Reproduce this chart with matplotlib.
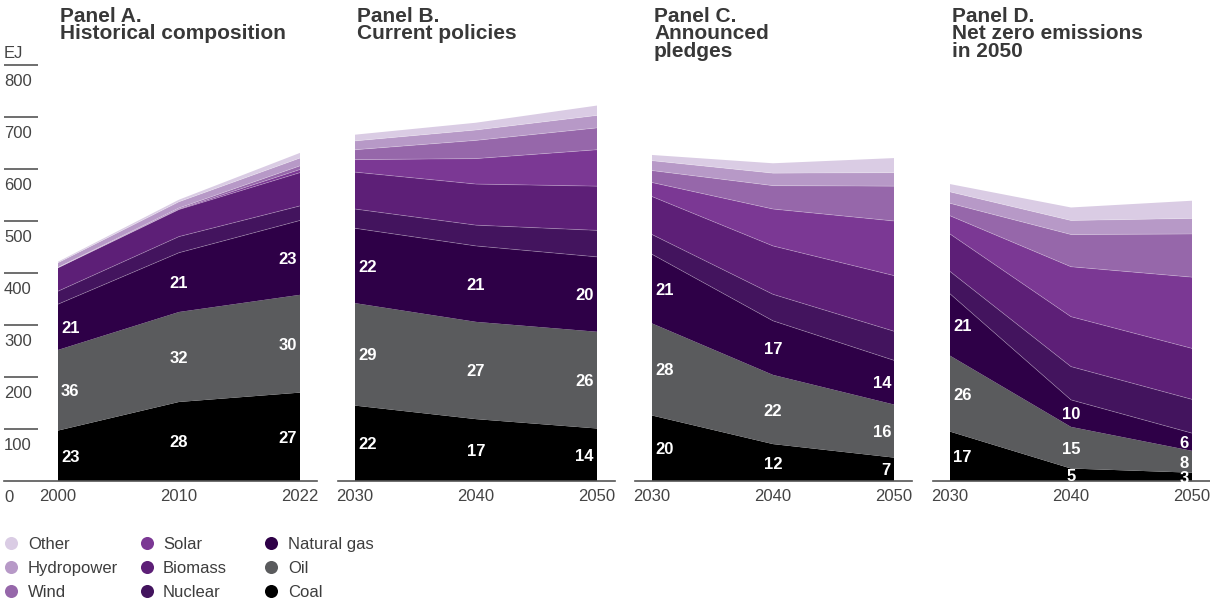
import matplotlib.pyplot as plt
import numpy as np

plt.rcParams['font.family'] = ['Liberation Sans', 'DejaVu Sans']

# stacking order, bottom to top
sources = ['Coal', 'Oil', 'Natural gas', 'Nuclear', 'Biomass', 'Solar', 'Wind', 'Hydropower', 'Other']
colors = ['#000000', '#5a5b5d', '#2e0047', '#43145e', '#5d1f77', '#7b3894', '#9667aa', '#b799c7', '#dacce4']

titles = ['Panel A.\nHistorical composition', 'Panel B.\nCurrent policies',
          'Panel C.\nAnnounced\npledges', 'Panel D.\nNet zero emissions\nin 2050']
years_hist = ['2000', '2010', '2022']
years_proj = ['2030', '2040', '2050']
y_ticks = [0, 100, 200, 300, 400, 500, 600, 700, 800]

# EJ per source (rows follow `sources`), columns are the three years
panel_a = [[97, 152, 170], [155, 173, 188], [88, 114, 143], [25, 31, 28], [45, 52, 64],
           [0.2, 1, 6], [0.5, 2, 7], [9, 12, 15], [2, 4, 10]]
panel_b = [[145, 119, 101], [197, 187, 186], [144, 146, 144], [37, 40, 51], [71, 79, 85],
           [24, 49, 70], [19, 35, 42], [17, 20, 24], [12, 14, 19]]
panel_c = [[126, 71, 45], [177, 133, 102], [133, 104, 85], [38, 51, 56], [73, 93, 107],
           [27, 71, 105], [23, 45, 67], [19, 24, 26], [11, 19, 28]]
panel_d = [[95, 24, 16], [146, 80, 42], [119, 52, 34], [43, 64, 65], [72, 96, 98],
           [35, 96, 137], [24, 62, 83], [22, 27, 30], [15, 25, 34]]

# share labels (%) for coal, oil, natural gas
share_a = [[23, 28, 27], [36, 32, 30], [21, 21, 23]]
share_b = [[22, 17, 14], [29, 27, 26], [22, 21, 20]]
share_c = [[20, 12, 7], [28, 22, 16], [21, 17, 14]]
share_d = [[17, 5, 3], [26, 15, 8], [21, 10, 6]]

panels = [panel_a, panel_b, panel_c, panel_d]
shares = [share_a, share_b, share_c, share_d]
xlabels = [years_hist, years_proj, years_proj, years_proj]

W, H = 1210, 601
fig = plt.figure(figsize=(W / 100, H / 100), dpi=100)

# legend / overlay in pixel coordinates
lax = fig.add_axes([0, 0, 1, 1])
lax.set_xlim(0, W)
lax.set_ylim(H, 0)
lax.axis('off')

spans = [(4, 317), (338, 615), (635, 912), (933, 1210)]
data_left = [58, 355, 652, 950]
unit = 121
y_top, y_bot = 65, 481
txt = '#444444'
pt = 0.72  # points per pixel

for p in range(4):
    x0, x1 = spans[p]
    ax = fig.add_axes([x0 / W, (H - y_bot) / H, (x1 - x0) / W, (y_bot - y_top) / H])
    ej = np.array(panels[p], dtype=float)
    xs = [0, 1, 2]
    ax.stackplot(xs, *ej, colors=colors, lw=0)
    cum = np.cumsum(ej, axis=0)
    for k in range(2, 8):
        ax.plot(xs, cum[k], color='white', alpha=0.25, lw=0.6)

    left = -(data_left[p] - x0) / unit
    ax.set_xlim(left, left + (x1 - x0) / unit)
    ax.set_ylim(0, 800)
    for s in ['top', 'right', 'left']:
        ax.spines[s].set_visible(False)
    ax.spines['bottom'].set_color('#555555')
    ax.spines['bottom'].set_linewidth(1.2)
    ax.set_yticks([])
    ax.set_xticks(xs)
    ax.set_xticklabels(xlabels[p])
    ax.tick_params(axis='x', length=0, pad=6, labelsize=12, labelcolor=txt)

    # share labels
    has = ['left', 'center', 'right']
    dxs = [3, 0, -3]
    for j in range(3):
        for i in range(3):
            mid = cum[j, i] - ej[j, i] / 2
            ax.annotate(str(shares[p][j][i]), xy=(i, mid), xytext=(dxs[i] * pt, -6 * pt),
                        textcoords='offset points', ha=has[i], va='baseline',
                        color='white', fontsize=12, fontweight='bold')

    lax.text(data_left[p] + 2, 6.5, titles[p], ha='left', va='top', fontsize=15,
             fontweight='bold', color='#383838', linespacing=0.92)

    if p == 0:
        tr = ax.get_yaxis_transform()
        ax.hlines(y_ticks[1:], 0, 34 / (x1 - x0), transform=tr, color='#555555', lw=1.2, clip_on=False)
        for v in y_ticks:
            ax.annotate(str(v), xy=(0, v), xycoords=tr, xytext=(0, -21 * pt),
                        textcoords='offset points', ha='left', va='baseline',
                        fontsize=12, color=txt)
        ax.annotate('EJ', xy=(0, 800), xycoords=tr, xytext=(0, 7 * pt),
                    textcoords='offset points', ha='left', va='baseline',
                    fontsize=12, color=txt)

# legend, three columns
leg_names = sources[::-1]
leg_colors = colors[::-1]
col_marker = [10.7, 147, 271]
col_text = [28, 163, 288]
rows = [543, 567, 591]
for idx in range(9):
    c, r = idx // 3, idx % 3
    lax.plot(col_marker[c], rows[r], 'o', ms=9.4, color=leg_colors[idx], mec='none')
    lax.text(col_text[c], rows[r] + 6, leg_names[idx], va='baseline', ha='left',
             fontsize=12, color='#3d3d3d')

fig.savefig('out.png', dpi=100)
